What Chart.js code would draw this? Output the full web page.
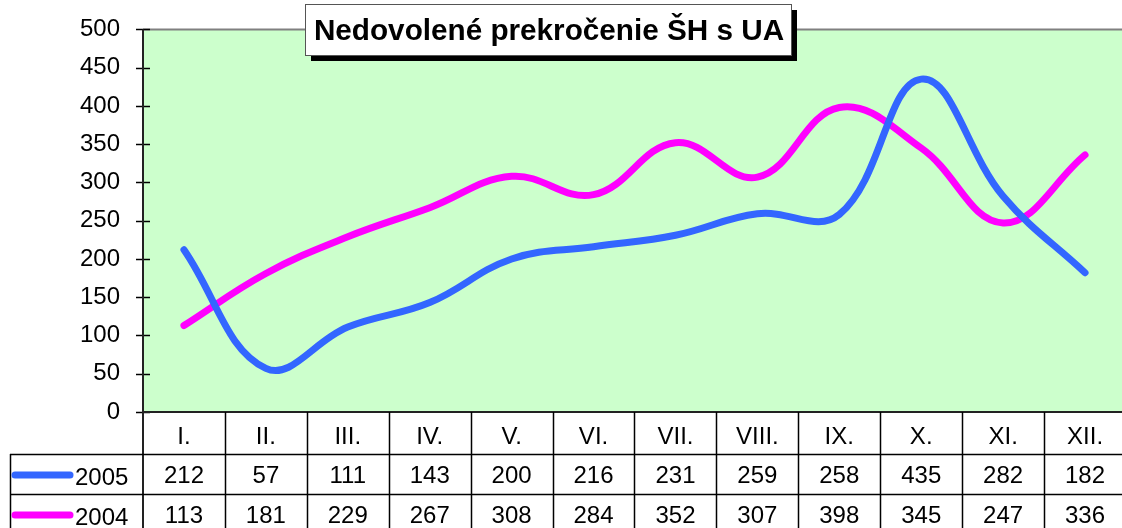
<!DOCTYPE html>
<html>
<head>
<meta charset="utf-8">
<script src="https://cdn.jsdelivr.net/npm/chart.js@4/dist/chart.umd.min.js"></script>
<style>
  html, body { margin: 0; padding: 0; background: #fff; overflow: hidden; }
  #wrap { width: 1122px; height: 528px; overflow: hidden; }
</style>
</head>
<body>
<div id="wrap"><canvas id="c" width="1130" height="528"></canvas></div>
<script>
var TITLE = 'Nedovolené prekročenie ŠH s UA'
var months = ['I.', 'II.', 'III.', 'IV.', 'V.', 'VI.', 'VII.', 'VIII.', 'IX.', 'X.', 'XI.', 'XII.']
var series2005 = [212, 57, 111, 143, 200, 216, 231, 259, 258, 435, 282, 182]
var series2004 = [113, 181, 229, 267, 308, 284, 352, 307, 398, 345, 247, 336]
var yTicks = [0, 50, 100, 150, 200, 250, 300, 350, 400, 450, 500]

var FONT = '"Liberation Sans", Arial, sans-serif'
var BLUE = '#3366FF'
var PINK = '#FF00FF'

var chartBack = {
  id: 'chartBack',
  beforeDraw: function (chart) {
    var a = chart.chartArea, ctx = chart.ctx
    ctx.save()
    ctx.fillStyle = '#CCFFCC'
    ctx.fillRect(a.left, a.top, a.right - a.left, a.bottom - a.top)
    // top border of plot
    ctx.strokeStyle = '#808080'
    ctx.lineWidth = 2
    ctx.beginPath()
    ctx.moveTo(a.left, a.top)
    ctx.lineTo(a.right, a.top)
    ctx.stroke()
    ctx.restore()
  },
  afterDraw: function (chart) {
    var ctx = chart.ctx, x = chart.scales.x, y = chart.scales.y, a = chart.chartArea
    var w = x.getPixelForValue(1) - x.getPixelForValue(0)
    var headTop = a.bottom, row1 = a.bottom + 42, row2 = row1 + 40, row3 = row2 + 40
    ctx.save()
    // y tick marks crossing the axis
    ctx.strokeStyle = '#000'
    ctx.lineWidth = 1.5
    y.ticks.forEach(function (t) {
      var py = Math.round(y.getPixelForValue(t.value)) + 0.5
      ctx.beginPath()
      ctx.moveTo(a.left - 7, py)
      ctx.lineTo(a.left + 7, py)
      ctx.stroke()
    })
    // axes
    ctx.strokeStyle = '#222'
    ctx.lineWidth = 2
    ctx.beginPath()
    ctx.moveTo(a.left, a.top)
    ctx.lineTo(a.left, row3)
    ctx.moveTo(a.left, a.bottom)
    ctx.lineTo(a.right, a.bottom)
    ctx.stroke()
    // table lines
    ctx.strokeStyle = '#000'
    ctx.lineWidth = 1.5
    ctx.beginPath()
    for (var i = 1; i <= months.length; i++) {
      var bx = Math.round(x.getPixelForValue(i) - w / 2) + 0.5
      ctx.moveTo(bx, headTop)
      ctx.lineTo(bx, row3)
    }
    ctx.moveTo(10.5, row1)
    ctx.lineTo(10.5, row3)
    ctx.moveTo(10, row1 + 0.5)
    ctx.lineTo(a.right, row1 + 0.5)
    ctx.moveTo(10, row2 + 0.5)
    ctx.lineTo(a.right, row2 + 0.5)
    ctx.stroke()
    // table values
    ctx.fillStyle = '#000'
    ctx.font = '24px ' + FONT
    ctx.textAlign = 'center'
    ctx.textBaseline = 'middle'
    var rows = [[series2005, row1], [series2004, row2]]
    rows.forEach(function (r) {
      r[0].forEach(function (v, i) {
        ctx.fillText(String(v), x.getPixelForValue(i), r[1] + 22)
      })
    })
    // legend keys
    chart.data.datasets.forEach(function (ds, k) {
      var ry = rows[k][1]
      ctx.strokeStyle = ds.borderColor
      ctx.lineWidth = 7
      ctx.lineCap = 'round'
      ctx.beginPath()
      ctx.moveTo(15, ry + 21)
      ctx.lineTo(70, ry + 21)
      ctx.stroke()
      ctx.fillStyle = '#000'
      ctx.textAlign = 'left'
      ctx.fillText(ds.label, 75, ry + 24)
    })
    // title box
    var bx0 = 305, by0 = 4, bw = 486, bh = 51
    ctx.fillStyle = '#000'
    ctx.fillRect(bx0 + 6, by0 + 6, bw, bh)
    ctx.fillStyle = '#fff'
    ctx.fillRect(bx0, by0, bw, bh)
    ctx.strokeStyle = '#555'
    ctx.lineWidth = 1
    ctx.strokeRect(bx0 + 0.5, by0 + 0.5, bw, bh)
    ctx.fillStyle = '#000'
    ctx.font = 'bold 29.7px ' + FONT
    ctx.textAlign = 'center'
    ctx.textBaseline = 'middle'
    ctx.fillText(TITLE, bx0 + bw / 2 + 1, by0 + bh / 2 + 2)
    ctx.restore()
  }
}

new Chart(document.getElementById('c').getContext('2d'), {
  type: 'line',
  data: {
    labels: months,
    datasets: [
      { label: '2005', data: series2005, borderColor: BLUE, backgroundColor: BLUE },
      { label: '2004', data: series2004, borderColor: PINK, backgroundColor: PINK }
    ]
  },
  options: {
    responsive: false,
    animation: false,
    layout: { padding: { top: 25, right: 4, bottom: 74, left: 0 } },
    elements: {
      line: { borderWidth: 7, tension: 0.4, borderCapStyle: 'round', borderJoinStyle: 'round' },
      point: { radius: 0 }
    },
    plugins: {
      legend: { display: false },
      title: { display: false },
      tooltip: { enabled: false }
    },
    scales: {
      x: {
        offset: true,
        grid: { display: false },
        border: { display: false },
        ticks: { color: '#000', font: { family: FONT, size: 24 }, padding: 3, maxRotation: 0, autoSkip: false },
        afterFit: function (s) { s.height = 42 }
      },
      y: {
        min: 0,
        max: 500,
        afterBuildTicks: function (s) { s.ticks = yTicks.map(function (v) { return { value: v } }) },
        grid: { display: false },
        border: { display: false },
        ticks: { color: '#000', font: { family: FONT, size: 24 }, padding: 15 },
        afterFit: function (s) { s.width = 143 }
      }
    }
  },
  plugins: [chartBack]
})
</script>
</body>
</html>
